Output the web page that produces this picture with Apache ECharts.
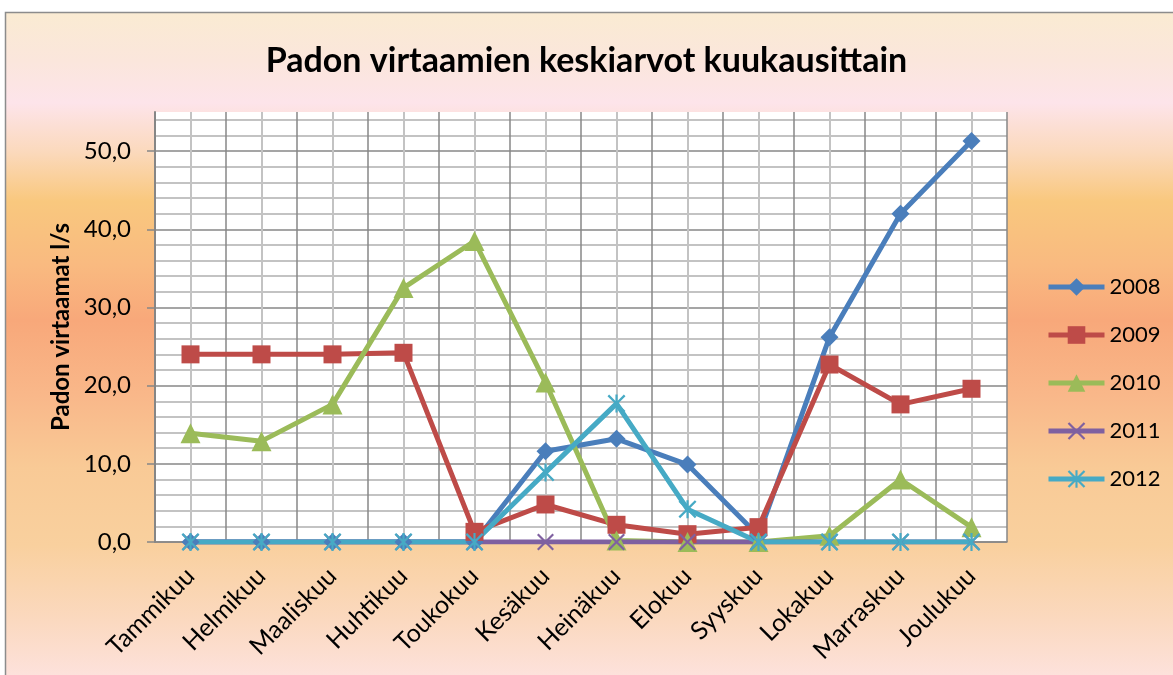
<!DOCTYPE html>
<html>
<head>
<meta charset="utf-8">
<script src="https://cdn.jsdelivr.net/npm/echarts@6/dist/echarts.min.js"></script>
<style>
html,body{margin:0;padding:0;background:#fff;}
#chart{width:1173px;height:675px;}
</style>
</head>
<body>
<div id="chart"></div>
<script>
var titleText = 'Padon virtaamien keskiarvot kuukausittain';
var yAxisName = 'Padon virtaamat l/s';
var categories = ['Tammikuu','Helmikuu','Maaliskuu','Huhtikuu','Toukokuu','Kesäkuu','Heinäkuu','Elokuu','Syyskuu','Lokakuu','Marraskuu','Joulukuu'];
var seriesNames = ['2008','2009','2010','2011','2012'];
var s2008 = [0,0,0,0,0,11.6,13.2,9.9,0.8,26.2,42.0,51.3];
var s2009 = [24.0,24.0,24.0,24.2,1.3,4.8,2.2,1.0,1.9,22.7,17.6,19.6];
var s2010 = [13.9,12.9,17.6,32.5,38.5,20.4,0.2,0.0,0.0,0.8,8.0,1.9];
var s2011 = [0,0,0,0,0,0,0,0,0,0,0,0];
var s2012 = [0,0,0,0,0,8.9,17.7,4.2,0,0,0,0];
var yMin = 0, yMax = 55, yInterval = 10, yMinorInterval = 2;

var FONT = 'Lato';
var colors = ['#4a7ebb','#be4b48','#9bbb59','#7f60a0','#46aac5'];
var xPath = 'path://M0,0.9L0.9,0L5,4.1L9.1,0L10,0.9L5.9,5L10,9.1L9.1,10L5,5.9L0.9,10L0,9.1L4.1,5Z';
var starPath = xPath + 'M4.4,0L5.6,0L5.6,10L4.4,10Z';
var symbols = ['diamond','rect','triangle',xPath,starPath];
var symbolSizes = [18,18,20,17,18];
var dataSets = [s2008,s2009,s2010,s2011,s2012];

var series = dataSets.map(function(d,i){
  return {
    name: seriesNames[i], type:'line', data:d,
    xAxisIndex:0, yAxisIndex:0,
    symbol: symbols[i], symbolSize: symbolSizes[i],
    showAllSymbol: true,
    lineStyle:{color:colors[i], width:5},
    itemStyle:{color:colors[i]},
    emphasis:{disabled:true},
    animation:false
  };
});

var chart = echarts.init(document.getElementById('chart'), null, {renderer:'canvas'});
var minorColors = ['rgba(0,0,0,0)','#c3c3c3','#c3c3c3','#c3c3c3','#c3c3c3'];
chart.setOption({
  animation:false,
  graphic:[{
    type:'rect', z:-100, silent:true,
    shape:{x:5.5,y:12.5,width:1200,height:700},
    style:{
      fill:{type:'linear',x:0,y:0,x2:0,y2:1,global:false,colorStops:[
        {offset:0,color:'#faebd2'},
        {offset:0.07,color:'#fbe6dc'},
        {offset:0.13,color:'#fde4ea'},
        {offset:0.2,color:'#fbd9bc'},
        {offset:0.27,color:'#f9c87e'},
        {offset:0.36,color:'#f9ba80'},
        {offset:0.44,color:'#f8a87a'},
        {offset:0.55,color:'#f9b88a'},
        {offset:0.65,color:'#f9ca96'},
        {offset:0.76,color:'#f9d09e'},
        {offset:0.87,color:'#fbd9c0'},
        {offset:0.95,color:'#fde2dd'},
        {offset:1,color:'#fde2dd'}
      ]},
      stroke:'#8c8c8c', lineWidth:1.5
    }
  }],
  title:{
    text:titleText, left:'center', top:39,
    textStyle:{fontFamily:FONT, fontWeight:'bold', fontSize:34, color:'#000'}
  },
  legend:{
    orient:'vertical', left:1046, top:276, padding:0,
    itemWidth:56, itemHeight:22, itemGap:26,
    lineStyle:{width:5},
    textStyle:{fontFamily:FONT, fontSize:22, color:'#000'},
    data:seriesNames
  },
  grid:{
    left:155, right:166, top:112, bottom:133, containLabel:false,
    show:true, backgroundColor:'#ffffff', borderWidth:0
  },
  xAxis:[{
    type:'category', data:categories, boundaryGap:true,
    axisLine:{show:true, lineStyle:{color:'#868686', width:1.5}},
    axisTick:{show:false},
    axisLabel:{rotate:45, margin:30, fontFamily:FONT, fontSize:25, color:'#000', interval:0},
    splitLine:{show:true, lineStyle:{color:'#878787', width:1.5}}
  },{
    type:'value', min:0, max:12, interval:0.5, show:true,
    axisLine:{show:false}, axisTick:{show:false}, axisLabel:{show:false},
    splitLine:{show:true, lineStyle:{color:['rgba(0,0,0,0)','#c3c3c3'], width:2}}
  }],
  yAxis:[{
    type:'value', min:yMin, max:yMax, interval:yInterval,
    name:yAxisName, nameLocation:'middle', nameRotate:90, nameGap:82,
    nameTextStyle:{fontFamily:FONT, fontWeight:'bold', fontSize:24, color:'#000'},
    axisLine:{show:true, lineStyle:{color:'#868686', width:2}},
    axisTick:{show:true, length:8, lineStyle:{color:'#868686', width:1.5}},
    axisLabel:{margin:24, fontFamily:FONT, fontSize:24, color:'#000', showMaxLabel:false,
      formatter:function(v){ return v === yMax ? '' : v.toFixed(1).replace('.', ','); }},
    splitLine:{show:true, showMaxLine:false, lineStyle:{color:'#878787', width:1.5}}
  },{
    type:'value', min:yMin, max:yMax, interval:yMinorInterval, show:true,
    axisLine:{show:false}, axisTick:{show:false}, axisLabel:{show:false},
    splitLine:{show:true, showMaxLine:false, lineStyle:{color:minorColors, width:2}}
  }],
  series:series
});
</script>
</body>
</html>
